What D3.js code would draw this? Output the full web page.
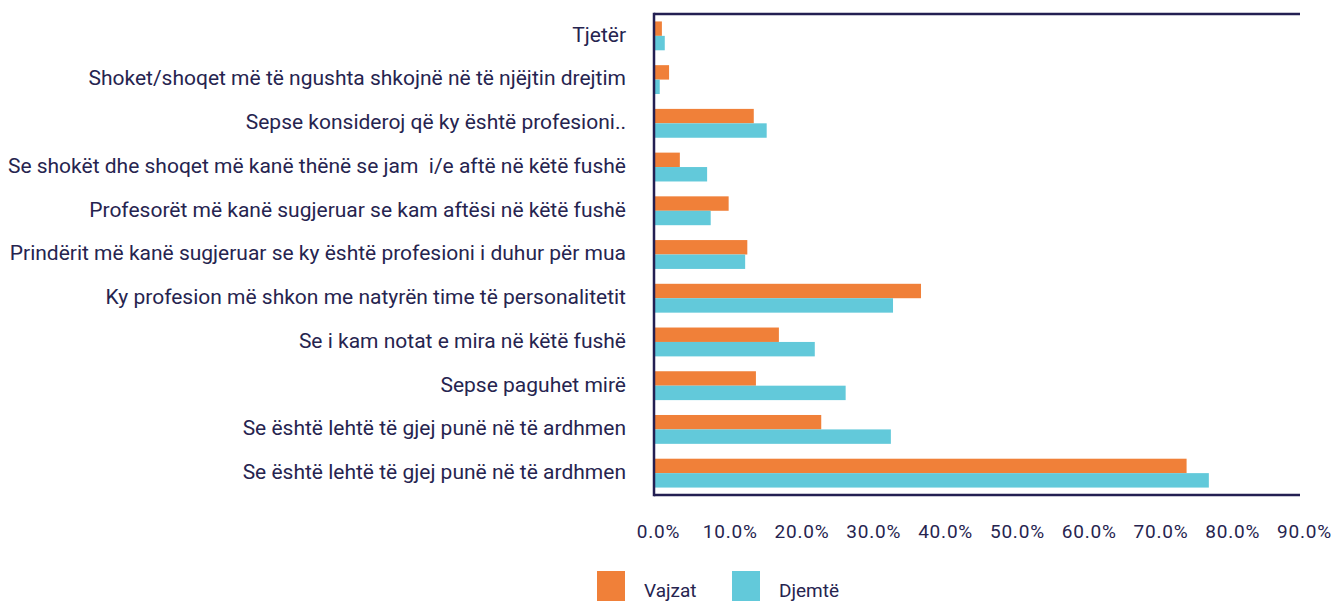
<!DOCTYPE html>
<html>
<head>
<meta charset="utf-8">
<script src="https://cdn.jsdelivr.net/npm/d3@7"></script>
<style>
  body { margin: 0; background: #fff; }
  text { font-family: Roboto, "Open Sans", sans-serif; fill: #26244f; }
  .catLabel { font-size: 21px; white-space: pre; }
  .tickLabel { font-size: 19px; letter-spacing: 0.8px; }
  .legendText { font-size: 19px; }
</style>
</head>
<body>
<div id="chart"></div>
<script>
// Data (percent)
var categories = [
  "Tjetër",
  "Shoket/shoqet më të ngushta shkojnë në të njëjtin drejtim",
  "Sepse konsideroj që ky është profesioni..",
  "Se shokët dhe shoqet më kanë thënë se jam  i/e aftë në këtë fushë",
  "Profesorët më kanë sugjeruar se kam aftësi në këtë fushë",
  "Prindërit më kanë sugjeruar se ky është profesioni i duhur për mua",
  "Ky profesion më shkon me natyrën time të personalitetit",
  "Se i kam notat e mira në këtë fushë",
  "Sepse paguhet mirë",
  "Se është lehtë të gjej punë në të ardhmen",
  "Se është lehtë të gjej punë në të ardhmen"
];
var vajzat = [1.1, 2.1, 13.9, 3.6, 10.4, 13.0, 37.2, 17.4, 14.2, 23.3, 74.2];
var djemte = [1.5, 0.8, 15.7, 7.4, 7.9, 12.7, 33.3, 22.4, 26.7, 33.0, 77.3];
var seriesNames = ["Vajzat", "Djemtë"];
var tickValues = [0, 10, 20, 30, 40, 50, 60, 70, 80, 90];
var colors = ["#F08039", "#62C9DA"];
var navy = "#231F52";

// Spacing
var margin = {top: 14, right: 44, bottom: 106, left: 654};
var totalW = 1344, totalH = 601;
var width = totalW - margin.left - margin.right;
var height = totalH - margin.top - margin.bottom;

var svg = d3.select("#chart")
  .append("svg")
  .attr("width", totalW)
  .attr("height", totalH);

var g = svg.append("g")
  .attr("transform", "translate(" + margin.left + "," + margin.top + ")");

// two categories share a label, so the band scale is keyed by index
var rows = categories.map(function(c, i) {
  return {idx: i, category: c, values: [vajzat[i], djemte[i]]};
});

// Scales
var xScale = d3.scaleLinear().domain([0, 90]).range([0, width]);

var yScale = d3.scaleBand()
  .domain(d3.range(categories.length))
  .range([0, height])
  .paddingInner(0.34)
  .paddingOuter(0.17);

var subScale = d3.scaleBand()
  .domain([0, 1])
  .range([0, yScale.bandwidth()]);

// Bars
var groups = g.selectAll(".grp")
  .data(rows)
  .enter()
  .append("g")
  .attr("class", "grp")
  .attr("transform", function(d) { return "translate(0," + yScale(d.idx) + ")"; });

groups.selectAll("rect")
  .data(function(d) { return d.values; })
  .enter()
  .append("rect")
  .attr("x", 0)
  .attr("y", function(d, i) { return subScale(i); })
  .attr("width", function(d) { return xScale(d); })
  .attr("height", subScale.bandwidth())
  .style("fill", function(d, i) { return colors[i]; });

// Category labels (y axis)
var yAxis = g.append("g")
  .call(d3.axisLeft(yScale).tickSize(0).tickPadding(28)
    .tickFormat(function(i) { return categories[i]; }));
yAxis.select(".domain").remove();
yAxis.selectAll(".tick text")
  .attr("class", "catLabel")
  .attr("dy", "0.28em")
  .style("fill", "#26244f");

// x axis tick labels
var xAxis = g.append("g")
  .attr("transform", "translate(4," + height + ")")
  .call(d3.axisBottom(xScale).tickValues(tickValues).tickSize(0).tickPadding(30)
    .tickFormat(function(d) { return d.toFixed(1) + "%"; }));
xAxis.select(".domain").remove();
xAxis.selectAll(".tick text")
  .attr("class", "tickLabel")
  .style("fill", "#26244f");

// Frame lines: top, left, bottom
g.append("line")
  .attr("x1", 0).attr("x2", width).attr("y1", 0).attr("y2", 0)
  .style("stroke", navy).style("stroke-width", 2.5);
g.append("line")
  .attr("x1", 0).attr("x2", width).attr("y1", height).attr("y2", height)
  .style("stroke", navy).style("stroke-width", 2.5);
g.append("line")
  .attr("x1", 0).attr("x2", 0).attr("y1", -1.25).attr("y2", height + 1.25)
  .style("stroke", navy).style("stroke-width", 2.5);

// Legend
var legendX = [597, 732];
var legend = svg.selectAll(".legend")
  .data(seriesNames)
  .enter()
  .append("g")
  .attr("class", "legend")
  .attr("transform", function(d, i) { return "translate(" + legendX[i] + ",571)"; });

legend.append("rect")
  .attr("width", 28)
  .attr("height", 30)
  .style("fill", function(d, i) { return colors[i]; });

legend.append("text")
  .attr("x", 47)
  .attr("y", 26)
  .attr("class", "legendText")
  .text(function(d) { return d; });
</script>
</body>
</html>
